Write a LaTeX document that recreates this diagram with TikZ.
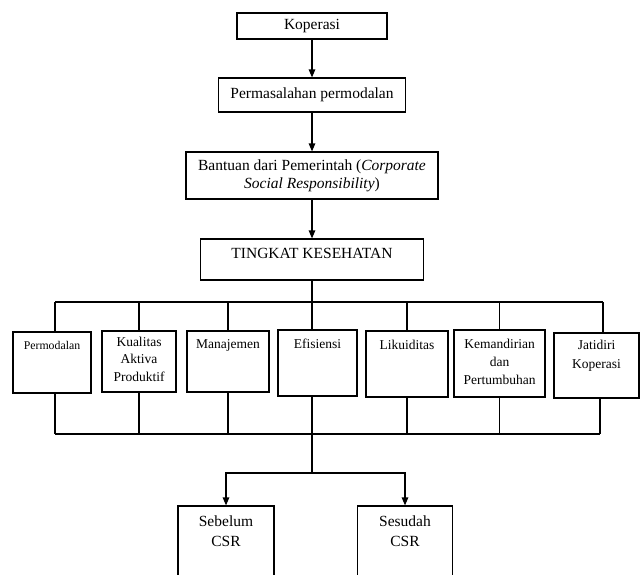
\documentclass[tikz,border=0pt]{standalone}
\usepackage{fontspec}
\setmainfont{Liberation Serif}
\usepackage{tikz}
\usetikzlibrary{positioning,arrows.meta}
\newcommand{\hurufbesar}{\fontsize{15.5}{18}\selectfont}
\newcommand{\hurufkecil}{\fontsize{13.5}{17.5}\selectfont}

\begin{document}
\begin{tikzpicture}[x=1pt,y=-1pt,line width=1.2pt,
  >={Triangle[length=8pt,width=6.5pt]},
  kotak/.style={draw,inner sep=0pt},
  isi/.style={inner sep=0pt,align=center,font=\hurufkecil},
  judul/.style={inner sep=0pt,align=center,font=\hurufbesar}]
  \def\busatas{302}
  \def\busbawah{434}
  \def\cabangy{473}
  \def\tengah{312}

  \useasboundingbox (0,0) rectangle (640,574);
  \clip (0,0) rectangle (640,574);

  \node[kotak,font=\hurufbesar,minimum width=150pt,minimum height=26pt] (kop) at (\tengah,26) {Koperasi};
  \node[kotak,font=\hurufbesar,minimum width=187pt,minimum height=34pt] (masalah) at (\tengah,95) {Permasalahan permodalan};
  \node[kotak,font=\hurufbesar,align=center,minimum width=252pt,minimum height=47pt] (bantuan) at (\tengah,175.5)
    {Bantuan dari Pemerintah (\textit{Corporate}\\\textit{Social Responsibility})};
  \node[kotak,minimum width=223pt,minimum height=41pt] (tingkat) at (\tengah,259.5) {};
  \node[judul,below=9pt of tingkat.north] (tingkatT) {TINGKAT KESEHATAN};

  \node[kotak,minimum width=78pt,minimum height=61pt] (perm) at (52,362.5) {};
  \node[kotak,minimum width=74pt,minimum height=61pt] (kual) at (139,361.5) {};
  \node[kotak,minimum width=82pt,minimum height=61pt] (mana) at (228,361.5) {};
  \node[kotak,minimum width=79pt,minimum height=66pt] (efis) at (317.5,363) {};
  \node[kotak,minimum width=82pt,minimum height=66pt] (liku) at (407,364) {};
  \node[kotak,minimum width=91pt,minimum height=67pt] (kema) at (499.5,363.5) {};
  \node[kotak,minimum width=85pt,minimum height=65pt] (jati) at (596.5,365.5) {};

  \node[isi,font=\fontsize{11.8}{15}\selectfont,below=9pt of perm.north] (permT) {Permodalan};
  \node[isi,below=6pt of kual.north] (kualT) {Kualitas\\Aktiva\\Produktif};
  \node[isi,below=9pt of mana.north] (manaT) {Manajemen};
  \node[isi,below=9pt of efis.north] (efisT) {Efisiensi};
  \node[isi,below=9pt of liku.north] (likuT) {Likuiditas};
  \node[isi,font=\fontsize{13.5}{18}\selectfont,below=9pt of kema.north] (kemaT) {Kemandirian\\dan\\Pertumbuhan};
  \node[isi,font=\fontsize{13.5}{19}\selectfont,below=7pt of jati.north] (jatiT) {Jatidiri\\Koperasi};

  \node[kotak,minimum width=96pt,minimum height=120pt] (sebelum) at (226,566) {};
  \node[kotak,minimum width=95pt,minimum height=120pt] (sesudah) at (405,566) {};
  \node[judul,font=\fontsize{15.5}{20}\selectfont,below=10pt of sebelum.north] (sebelumT) {Sebelum\\CSR};
  \node[judul,font=\fontsize{15.5}{20}\selectfont,below=10pt of sesudah.north] (sesudahT) {Sesudah\\CSR};

  \coordinate (atas) at (\tengah,\busatas);
  \coordinate (atasKiri) at (55,\busatas);
  \coordinate (atasKanan) at (603,\busatas);
  \coordinate (bawah) at (\tengah,\busbawah);
  \coordinate (bawahKiri) at (55,\busbawah);
  \coordinate (bawahKanan) at (600,\busbawah);
  \coordinate (cabang) at (\tengah,\cabangy);

  \draw[->] (kop) edge (masalah);
  \draw[->] (masalah) edge (bantuan);
  \draw[->] (bantuan) edge (tingkat);

  \draw (tingkat.south) -- (atas);
  \draw (atasKiri) -- (atasKanan);
  \draw (atasKiri) -- (atasKiri |- perm.north);
  \draw (kual.north |- atas) -- (kual.north);
  \draw (mana.north |- atas) -- (mana.north);
  \draw (atas) -- (atas |- efis.north);
  \draw (liku.north |- atas) -- (liku.north);
  \draw (kema.north |- atas) -- (kema.north);
  \draw (atasKanan) -- (atasKanan |- jati.north);

  \draw (perm.south -| bawahKiri) -- (bawahKiri);
  \draw (kual.south) -- (kual.south |- bawah);
  \draw (mana.south) -- (mana.south |- bawah);
  \draw (efis.south -| bawah) -- (bawah);
  \draw (liku.south) -- (liku.south |- bawah);
  \draw (kema.south) -- (kema.south |- bawah);
  \draw (jati.south -| bawahKanan) -- (bawahKanan);
  \draw (bawahKiri) -- (bawahKanan);

  \draw[->] (bawah) -- (cabang) -| (sebelum.north);
  \draw[->] (cabang) -| (sesudah.north);
\end{tikzpicture}
\end{document}
